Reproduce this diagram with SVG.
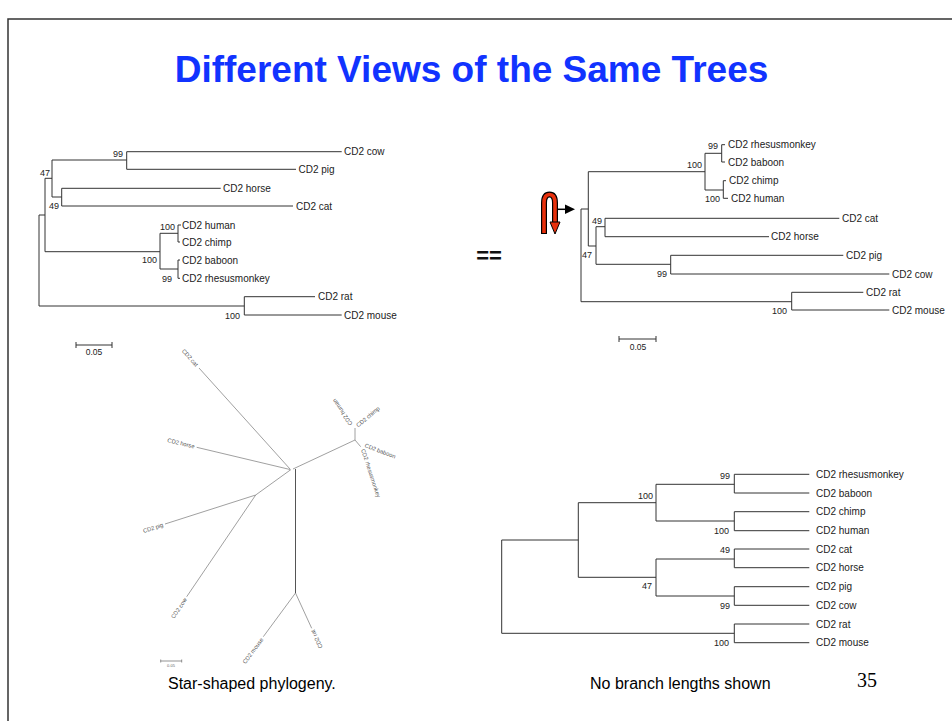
<svg xmlns="http://www.w3.org/2000/svg" width="952" height="721" viewBox="0 0 952 721">
<style>
.br{fill:none;stroke:#333;stroke-width:1}
.st{fill:none;stroke:#888;stroke-width:0.8}
.tip{font-family:"Liberation Sans",Arial,sans-serif;font-size:10px;fill:#222}
.bs{font-family:"Liberation Sans",Arial,sans-serif;font-size:9px;fill:#222;text-anchor:end}
.sl{font-family:"Liberation Sans",Arial,sans-serif;font-size:5.8px;fill:#555}
.cap{font-family:"Liberation Sans",Arial,sans-serif;font-size:16px;fill:#000}
</style>
<rect width="952" height="721" fill="#fff"/>
<path d="M8,721 V19 H952" fill="none" stroke="#333" stroke-width="1.5"/>
<text x="471.5" y="81.5" text-anchor="middle" font-family="'Liberation Sans',Arial,sans-serif" font-weight="bold" font-size="37" fill="#1133ff">Different Views of the Same Trees</text>

<g id="tree-topleft">
<g id="tl-connectors">
<path class="br" d="M39,215 V306 M39,215 H45 M39,306 H244.3
M45,178.3 V251.7 M45,178.3 H52 M45,251.7 H160
M52,160 V197 M52,160 H126.7 M52,197 H61.7
M126.7,151.7 V169.3 M126.7,151.7 H341.7 M126.7,169.3 H296
M61.7,188.3 V206 M61.7,188.3 H220.7 M61.7,206 H293
M160,233.3 V269 M160,233.3 H178 M160,269 H178
M178,225 V242 M178,225 H181 M178,242 H180
M178,260 V278.3 M178,260 H180 M178,278.3 H180
M244.3,296.7 V315 M244.3,296.7 H315 M244.3,315 H341.7"/>
</g>
<g id="tl-labels">
<text class="tip" x="344" y="155.2">CD2 cow</text>
<text class="tip" x="298.5" y="172.8">CD2 pig</text>
<text class="tip" x="223" y="191.8">CD2 horse</text>
<text class="tip" x="296" y="209.5">CD2 cat</text>
<text class="tip" x="182" y="228.5">CD2 human</text>
<text class="tip" x="182" y="245.5">CD2 chimp</text>
<text class="tip" x="182" y="263.5">CD2 baboon</text>
<text class="tip" x="182" y="281.8">CD2 rhesusmonkey</text>
<text class="tip" x="318" y="300.2">CD2 rat</text>
<text class="tip" x="344" y="318.5">CD2 mouse</text>
<text class="bs" x="123" y="157">99</text>
<text class="bs" x="50" y="175.5">47</text>
<text class="bs" x="59" y="208.5">49</text>
<text class="bs" x="175" y="230">100</text>
<text class="bs" x="157" y="262.5">100</text>
<text class="bs" x="172" y="281.5">99</text>
<text class="bs" x="240" y="318.5">100</text>
</g>
<g id="tl-scale">
<path class="br" d="M76,345 H112 M76,342 V348 M112,342 V348"/>
<text x="94" y="355" text-anchor="middle" font-family="'Liberation Sans',Arial,sans-serif" font-size="8.5" fill="#222">0.05</text>
</g>
</g>

<text id="equals" x="489" y="263" text-anchor="middle" font-family="'Liberation Sans',Arial,sans-serif" font-weight="bold" font-size="22" fill="#111">==</text>

<g id="rotate-icon">
<path d="M544,234 V203 Q544,194.5 549.5,194.5 Q555,194.5 555,203 V222" fill="none" stroke="#000" stroke-width="6"/>
<path d="M544,233 V203 Q544,194.5 549.5,194.5 Q555,194.5 555,203 V223" fill="none" stroke="#e8300c" stroke-width="3.6"/>
<polygon points="550,222 560,222 555,234" fill="#e8300c" stroke="#000" stroke-width="1"/>
<path d="M558,209.3 H566" stroke="#000" stroke-width="1.5"/>
<polygon points="565,204.5 575,209.3 565,214" fill="#000"/>
</g>

<g id="tree-topright">
<g id="tr-connectors">
<path class="br" d="M581,209 V301.7 M581,209 H588.3 M581,301.7 H791.7
M588.3,171.7 V246 M588.3,171.7 H705 M588.3,246 H596
M596,226.7 V264.3 M596,226.7 H605 M596,264.3 H670.7
M605,218.3 V236.7 M605,218.3 H839.3 M605,236.7 H769
M670.7,255.3 V274 M670.7,255.3 H843.3 M670.7,274 H889.3
M791.7,292.3 V310 M791.7,292.3 H863.3 M791.7,310 H889.3
M705,153.3 V190 M705,153.3 H721.7 M705,190 H723.3
M721.7,144.7 V162 M721.7,144.7 H725 M721.7,162 H725
M723.3,180.7 V198.3 M723.3,180.7 H726 M723.3,198.3 H728"/>
</g>
<g id="tr-labels">
<text class="tip" x="728" y="148.2">CD2 rhesusmonkey</text>
<text class="tip" x="728" y="165.5">CD2 baboon</text>
<text class="tip" x="729" y="184.2">CD2 chimp</text>
<text class="tip" x="731" y="201.8">CD2 human</text>
<text class="tip" x="842" y="221.8">CD2 cat</text>
<text class="tip" x="771" y="240.2">CD2 horse</text>
<text class="tip" x="846" y="258.8">CD2 pig</text>
<text class="tip" x="892" y="277.5">CD2 cow</text>
<text class="tip" x="866" y="295.8">CD2 rat</text>
<text class="tip" x="892" y="313.5">CD2 mouse</text>
<text class="bs" x="718" y="149">99</text>
<text class="bs" x="702" y="168">100</text>
<text class="bs" x="720" y="201.5">100</text>
<text class="bs" x="602" y="223.5">49</text>
<text class="bs" x="592" y="257.5">47</text>
<text class="bs" x="667" y="276.5">99</text>
<text class="bs" x="787" y="313.5">100</text>
</g>
<g id="tr-scale">
<path class="br" d="M619,339 H656 M619,336 V342 M656,336 V342"/>
<text x="638" y="350" text-anchor="middle" font-family="'Liberation Sans',Arial,sans-serif" font-size="8.5" fill="#222">0.05</text>
</g>
</g>

<g id="tree-star">
<g id="star-connectors">
<path class="st" d="M199,368 L290,469 M196.7,447.3 L290,469.5 M291,469.5 L255.7,495 M255.7,495 L165,524 M255.7,495 L186.7,596.7
M293,469 L355,440 M355,440 L355,428 M355,440 L360.7,446.7
M295.5,593 L263.3,636.7 M295.5,593 L311.7,628.3"/>
<path d="M295.5,469 V593" fill="none" stroke="#555" stroke-width="1"/>
</g>
<g id="star-labels">
<text class="sl" text-anchor="end" dy="0.35em" transform="translate(197,365.5) rotate(48.5)">CD2 cat</text>
<text class="sl" text-anchor="end" dy="0.35em" transform="translate(194.5,446.5) rotate(13.5)">CD2 horse</text>
<text class="sl" text-anchor="end" dy="0.35em" transform="translate(163,524.7) rotate(-17.7)">CD2 pig</text>
<text class="sl" text-anchor="end" dy="0.35em" transform="translate(185.5,598.5) rotate(-55.8)">CD2 cow</text>
<text class="sl" text-anchor="end" dy="0.35em" transform="translate(262,638.5) rotate(-53.6)">CD2 mouse</text>
<text class="sl" text-anchor="end" dy="0.35em" transform="translate(312.5,630) rotate(245.3)">CD2 rat</text>
<text class="sl" dy="0.35em" transform="translate(351,425) rotate(236)">CD2 human</text>
<text class="sl" dy="0.35em" transform="translate(357,426) rotate(-40)">CD2 chimp</text>
<text class="sl" dy="0.35em" transform="translate(365,445) rotate(21)">CD2 baboon</text>
<text class="sl" dy="0.35em" transform="translate(363,449) rotate(72)">CD2 rhesusmonkey</text>
</g>
<g id="star-scale">
<path d="M160.7,661 H181.7 M160.7,659.5 V662.5 M181.7,659.5 V662.5" fill="none" stroke="#666" stroke-width="0.7"/>
<text x="171" y="666.5" text-anchor="middle" font-family="'Liberation Sans',Arial,sans-serif" font-size="4" fill="#666">0.05</text>
</g>
</g>

<g id="tree-bottomright">
<g id="br-connectors">
<path class="br" d="M501.7,540 V633.3 M501.7,540 H578.3 M501.7,633.3 H734.3
M578.3,502.7 V577.3 M578.3,502.7 H656 M578.3,577.3 H656
M656,484.3 V521 M656,484.3 H734.3 M656,521 H734.3
M656,559 V596 M656,559 H734.3 M656,596 H734.3
M734.3,474.3 V493 M734.3,474.3 H809.3 M734.3,493 H809.3
M734.3,511.7 V530.7 M734.3,511.7 H809.3 M734.3,530.7 H809.3
M734.3,549 V567.7 M734.3,549 H809.3 M734.3,567.7 H809.3
M734.3,586.7 V605.3 M734.3,586.7 H809.3 M734.3,605.3 H809.3
M734.3,624 V642.7 M734.3,624 H809.3 M734.3,642.7 H809.3"/>
</g>
<g id="br-labels">
<text class="tip" x="816" y="477.8">CD2 rhesusmonkey</text>
<text class="tip" x="816" y="496.5">CD2 baboon</text>
<text class="tip" x="816" y="515.2">CD2 chimp</text>
<text class="tip" x="816" y="534.2">CD2 human</text>
<text class="tip" x="816" y="552.5">CD2 cat</text>
<text class="tip" x="816" y="571.2">CD2 horse</text>
<text class="tip" x="816" y="590.2">CD2 pig</text>
<text class="tip" x="816" y="608.8">CD2 cow</text>
<text class="tip" x="816" y="627.5">CD2 rat</text>
<text class="tip" x="816" y="646.2">CD2 mouse</text>
<text class="bs" x="653" y="498.5">100</text>
<text class="bs" x="652" y="589">47</text>
<text class="bs" x="730" y="479">99</text>
<text class="bs" x="729" y="534">100</text>
<text class="bs" x="730" y="552.5">49</text>
<text class="bs" x="730" y="608.8">99</text>
<text class="bs" x="729" y="646">100</text>
</g>
</g>

<text class="cap" x="168" y="688.5">Star-shaped phylogeny.</text>
<text class="cap" x="590" y="688.5">No branch lengths shown</text>
<text x="857" y="687" font-family="'Liberation Serif','Times New Roman',serif" font-size="20" fill="#000">35</text>
</svg>
